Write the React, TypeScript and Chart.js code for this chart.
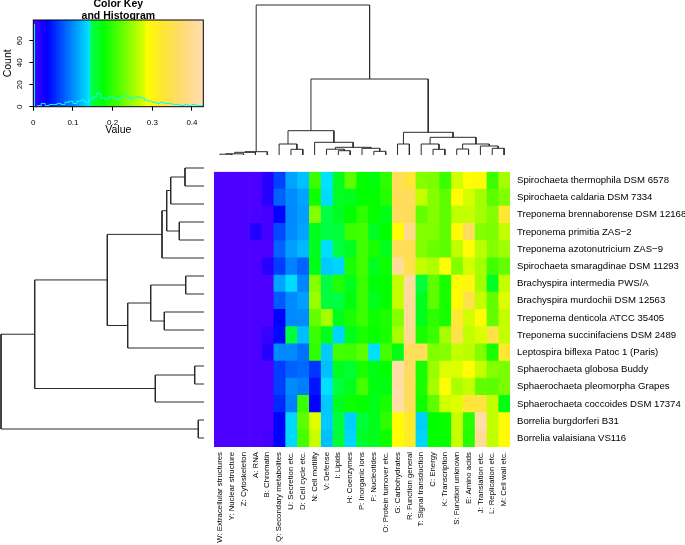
import React, { useEffect, useRef } from 'react';
import { Chart, registerables } from 'chart.js';
Chart.register(...registerables);

// ---------------- data ----------------
const VMAX = 0.4286;

const colLabels = [
  'W: Extracellular structures', 'Y: Nuclear structure', 'Z: Cytoskeleton', 'A: RNA', 'B: Chromatin',
  'Q: Secondary metabolites', 'U: Secretion etc.', 'D: Cell cycle etc.', 'N: Cell motility', 'V: Defense',
  'I: Lipids', 'H: Coenzymes', 'P: Inorganic ions', 'F: Nucleotides', 'O: Protein turnover etc.',
  'G: Carbohydrates', 'R: Function general', 'T: Signal transduction', 'C: Energy', 'K: Transcription',
  'S: Function unknown', 'E: Amino acids', 'J: Translation etc.', 'L: Replication etc.', 'M: Cell wall etc.',
];

const rowLabels = [
  'Spirochaeta thermophila DSM 6578', 'Spirochaeta caldaria DSM 7334', 'Treponema brennaborense DSM 12168',
  'Treponema primitia ZAS\u22122', 'Treponema azotonutricium ZAS\u22129', 'Spirochaeta smaragdinae DSM 11293',
  'Brachyspira intermedia PWS/A', 'Brachyspira murdochii DSM 12563', 'Treponema denticola ATCC 35405',
  'Treponema succinifaciens DSM 2489', 'Leptospira biflexa Patoc 1 (Paris)', 'Sphaerochaeta globosa Buddy',
  'Sphaerochaeta pleomorpha Grapes', 'Sphaerochaeta coccoides DSM 17374', 'Borrelia burgdorferi B31',
  'Borrelia valaisiana VS116',
];

const rowThermophila = [0, 0, 0, 0, 0.017, 0.066, 0.111, 0.126, 0.205, 0.141, 0.165, 0.222, 0.18, 0.172, 0.2, 0.358, 0.33, 0.24, 0.236, 0.205, 0.275, 0.29, 0.292, 0.205, 0.255];
const rowCaldaria = [0, 0, 0, 0, 0.017, 0.081, 0.1, 0.112, 0.185, 0.138, 0.162, 0.165, 0.178, 0.18, 0.195, 0.355, 0.36, 0.27, 0.24, 0.222, 0.29, 0.278, 0.255, 0.222, 0.238];
const rowBrennaborense = [0, 0, 0, 0, 0.003, 0.036, 0.1, 0.11, 0.24, 0.146, 0.163, 0.18, 0.2, 0.182, 0.168, 0.36, 0.355, 0.225, 0.24, 0.222, 0.268, 0.27, 0.255, 0.24, 0.325];
const rowPrimitia = [0, 0, 0, 0.02, 0.003, 0.07, 0.1, 0.112, 0.165, 0.147, 0.15, 0.205, 0.21, 0.163, 0.178, 0.29, 0.395, 0.24, 0.238, 0.222, 0.29, 0.36, 0.24, 0.236, 0.27];
const rowAzotonutricium = [0, 0, 0, 0, 0, 0.082, 0.11, 0.122, 0.165, 0.14, 0.148, 0.163, 0.208, 0.19, 0.165, 0.358, 0.355, 0.238, 0.228, 0.222, 0.268, 0.288, 0.265, 0.24, 0.253];
const rowSmaragdinae = [0, 0, 0, 0, 0.017, 0.064, 0.096, 0.082, 0.168, 0.13, 0.135, 0.192, 0.208, 0.165, 0.185, 0.41, 0.35, 0.27, 0.26, 0.29, 0.24, 0.275, 0.255, 0.208, 0.225];
const rowIntermedia = [0, 0, 0, 0, 0, 0.112, 0.138, 0.098, 0.24, 0.148, 0.195, 0.165, 0.205, 0.175, 0.18, 0.27, 0.41, 0.15, 0.222, 0.19, 0.29, 0.3, 0.255, 0.162, 0.27];
const rowMurdochii = [0, 0, 0, 0, 0, 0.078, 0.1, 0.11, 0.25, 0.15, 0.148, 0.172, 0.205, 0.165, 0.18, 0.27, 0.41, 0.165, 0.222, 0.19, 0.29, 0.345, 0.27, 0.225, 0.28];
const rowDenticola = [0, 0, 0, 0, 0, 0.036, 0.1, 0.102, 0.225, 0.255, 0.165, 0.19, 0.205, 0.185, 0.192, 0.24, 0.405, 0.165, 0.2, 0.19, 0.325, 0.275, 0.29, 0.225, 0.27];
const rowSuccinifaciens = [0, 0, 0, 0, 0.01, 0.04, 0.15, 0.125, 0.205, 0.165, 0.135, 0.165, 0.19, 0.183, 0.19, 0.255, 0.4, 0.19, 0.205, 0.255, 0.345, 0.27, 0.28, 0.34, 0.27];
const rowLeptospira = [0, 0, 0, 0, 0.017, 0.1, 0.1, 0.088, 0.2, 0.13, 0.21, 0.208, 0.22, 0.14, 0.21, 0.168, 0.36, 0.358, 0.238, 0.24, 0.27, 0.265, 0.24, 0.19, 0.325];
const rowGlobosa = [0, 0, 0, 0, 0, 0.064, 0.08, 0.085, 0.06, 0.126, 0.165, 0.155, 0.19, 0.17, 0.18, 0.42, 0.365, 0.19, 0.25, 0.28, 0.282, 0.29, 0.27, 0.24, 0.235];
const rowPleomorpha = [0, 0, 0, 0, 0, 0.064, 0.1, 0.095, 0.045, 0.14, 0.15, 0.165, 0.21, 0.172, 0.17, 0.42, 0.36, 0.19, 0.255, 0.29, 0.258, 0.27, 0.225, 0.222, 0.235];
const rowCoccoides = [0, 0, 0, 0, 0, 0.055, 0.095, 0.205, 0.036, 0.13, 0.165, 0.185, 0.18, 0.168, 0.19, 0.42, 0.36, 0.185, 0.222, 0.275, 0.282, 0.33, 0.335, 0.27, 0.17];
const rowBurgdorferi = [0, 0, 0, 0, 0, 0.036, 0.137, 0.222, 0.282, 0.13, 0.15, 0.132, 0.152, 0.165, 0.2, 0.29, 0.32, 0.132, 0.178, 0.182, 0.272, 0.198, 0.42, 0.27, 0.292];
const rowValaisiana = [0, 0, 0, 0, 0.003, 0.036, 0.137, 0.21, 0.272, 0.126, 0.152, 0.135, 0.16, 0.165, 0.185, 0.29, 0.318, 0.135, 0.18, 0.182, 0.272, 0.195, 0.405, 0.268, 0.29];

const heatValues = [
  rowThermophila, rowCaldaria, rowBrennaborense, rowPrimitia, rowAzotonutricium, rowSmaragdinae,
  rowIntermedia, rowMurdochii, rowDenticola, rowSuccinifaciens, rowLeptospira, rowGlobosa,
  rowPleomorpha, rowCoccoides, rowBurgdorferi, rowValaisiana,
];

// hclust-style merges: negative = leaf (display position, 1-based), positive = earlier merge; third = height
const colMerges: number[][] = [
  [-1, -2, 0.8], [1, -3, 1.2], [2, -4, 2.7], [3, -5, 3.3],
  [-7, -8, 5.7], [-6, 5, 11],
  [-11, -12, 4.3], [-10, 7, 5.8], [-14, -15, 3.7], [-13, 9, 6.7], [8, 10, 7.7], [-9, 11, 12.7],
  [6, 12, 24.3],
  [-16, -17, 11], [-19, -20, 5.7], [-18, 15, 11], [-21, -22, 6], [-24, -25, 6.7], [-23, 18, 9],
  [17, 19, 11], [16, 20, 17.7], [14, 21, 22.7],
  [13, 22, 76], [4, 23, 150],
];
const colTreeMax = 150;

const rowMerges: number[][] = [
  [-1, -2, 19], [1, -3, 33.3], [-4, -5, 24.7], [2, 3, 37.3], [4, -6, 42],
  [-7, -8, 18.3], [-9, -10, 39.7], [6, 7, 53.3], [8, -11, 76.3], [5, 9, 96.7],
  [-12, -13, 9.3], [11, -14, 48.7], [10, 12, 169.3], [-15, -16, 5.7], [13, 14, 203],
];
const rowTreeMax = 203;

// Colour key histogram
const histBreaks = [0, 0.003, 0.01, 0.02, 0.03, 0.04, 0.05, 0.06, 0.07, 0.08, 0.09, 0.1, 0.11, 0.12, 0.13, 0.14,
  0.15, 0.16, 0.17, 0.18, 0.19, 0.2, 0.21, 0.22, 0.23, 0.24, 0.25, 0.26, 0.27, 0.28, 0.29, 0.3, 0.31, 0.32,
  0.33, 0.34, 0.35, 0.36, 0.37, 0.38, 0.39, 0.4, 0.41, 0.42, 0.4286];
const histCounts = [75, 0, 1, 3, 1, 2, 2, 3, 2, 4, 5, 3, 5, 6, 4, 7, 9, 12, 8, 7, 9, 8, 7, 9, 10, 7, 8, 9, 8, 6,
  5, 4, 3, 4, 3, 3, 2, 2, 1, 2, 1, 2, 1, 1];
const keyTicksX = [0, 0.1, 0.2, 0.3, 0.4];
const keyCountMax = 75 / 0.95;

// ---------------- helpers ----------------
function hsv(h: number, s: number, v: number) {
  const c = v * s;
  const hp = (h % 360) / 60;
  const x = c * (1 - Math.abs((hp % 2) - 1));
  let r = 0, g = 0, b = 0;
  if (hp < 1) { r = c; g = x; } else if (hp < 2) { r = x; g = c; } else if (hp < 3) { g = c; b = x; }
  else if (hp < 4) { g = x; b = c; } else if (hp < 5) { r = x; b = c; } else { r = c; b = x; }
  const m = v - c;
  return `rgb(${Math.round((r + m) * 255)},${Math.round((g + m) * 255)},${Math.round((b + m) * 255)})`;
}
function topo(val: number) {
  const t = Math.min(1, Math.max(0, val / VMAX));
  if (t < 1 / 3) return hsv(258 - 72 * (t * 3), 1, 1);
  if (t < 2 / 3) return hsv(138 - 72 * ((t - 1 / 3) * 3), 1, 1);
  const f = (t - 2 / 3) * 3;
  return hsv(60 - 24 * f, 1 - 0.7 * f, 1);
}

function dendroPoints(merges: number[][], horizontal: boolean) {
  const pos: number[] = []; const hgt: number[] = [];
  const pts: any[] = [];
  const get = (k: number) => (k < 0 ? [-k - 0.5, 0] : [pos[k - 1], hgt[k - 1]]);
  merges.forEach(([a, b, h]) => {
    const [pa, ha] = get(a); const [pb, hb] = get(b);
    pos.push((pa + pb) / 2); hgt.push(h);
    const seg = [[pa, ha], [pa, h], [pb, h], [pb, hb]];
    seg.forEach(([p, q]) => pts.push(horizontal ? { x: p, y: q } : { x: q, y: p }));
    pts.push({ x: null, y: null });
  });
  return pts;
}

const FONT = 'Liberation Sans, Arial, Helvetica, sans-serif';

function ChartBox({ make, left, top, width, height }: any) {
  const ref = useRef<HTMLCanvasElement>(null);
  useEffect(() => {
    const chart = new Chart(ref.current as HTMLCanvasElement, make());
    return () => chart.destroy();
  }, []);
  return (
    <canvas ref={ref} width={width} height={height}
      style={{ position: 'absolute', left, top, width, height, display: 'block' }} />
  );
}

const base = { responsive: false, animation: false as const, devicePixelRatio: 1 };
const noPlugins = { legend: { display: false }, tooltip: { enabled: false } };

// ---------------- charts ----------------
const HM_W = 296, HM_H = 288;

function heatmapConfig(): any {
  return {
    type: 'bar',
    data: {
      labels: rowLabels,
      datasets: colLabels.map((c, j) => ({
        label: c,
        data: rowLabels.map(() => [j, j + 1]),
        backgroundColor: heatValues.map((r) => topo(r[j])),
        borderWidth: 0,
        barPercentage: 1,
        categoryPercentage: 1,
        grouped: false,
        xAxisID: 'x',
        yAxisID: 'y',
      })),
    },
    options: {
      ...base,
      indexAxis: 'y',
      layout: { padding: 0 },
      plugins: noPlugins,
      scales: {
        x: { type: 'linear', min: 0, max: 25, display: false },
        cx: {
          type: 'category', labels: colLabels, position: 'bottom', offset: true,
          grid: { display: false, drawTicks: false }, border: { display: false },
          ticks: { autoSkip: false, minRotation: 90, maxRotation: 90, padding: 5, color: '#000', font: { family: FONT, size: 7.8 } },
          afterFit: (s: any) => { s.height = 386 - HM_H; },
        },
        y: {
          type: 'category', position: 'right', offset: true,
          grid: { display: false, drawTicks: false }, border: { display: false },
          ticks: { autoSkip: false, padding: 7, color: '#000', font: { family: FONT, size: 9.6 } },
          afterFit: (s: any) => { s.width = 471 - HM_W; },
        },
      },
    },
  };
}

function colDendroConfig(): any {
  return {
    type: 'scatter',
    data: { datasets: [{ data: dendroPoints(colMerges, true), showLine: true, borderColor: '#2a2a2a', borderWidth: 1, pointRadius: 0, spanGaps: false, clip: false }] },
    options: {
      ...base,
      layout: { padding: { top: 5, bottom: 4, left: 0, right: 0 } },
      plugins: noPlugins,
      scales: {
        x: { type: 'linear', min: 0, max: 25, display: false },
        y: { type: 'linear', min: 0, max: colTreeMax, display: false },
      },
    },
  };
}

function rowDendroConfig(): any {
  return {
    type: 'scatter',
    data: { datasets: [{ data: dendroPoints(rowMerges, false), showLine: true, borderColor: '#2a2a2a', borderWidth: 1, pointRadius: 0, spanGaps: false, clip: false }] },
    options: {
      ...base,
      layout: { padding: { top: 0, bottom: 0, left: 1, right: 10 } },
      plugins: noPlugins,
      scales: {
        x: { type: 'linear', min: 0, max: rowTreeMax, reverse: true, display: false },
        y: { type: 'linear', min: 0, max: 16, reverse: true, display: false },
      },
    },
  };
}

const frame = {
  id: 'frame',
  afterDatasetsDraw(chart: any) {
    const { ctx, chartArea: a } = chart;
    ctx.save();
    ctx.strokeStyle = '#000'; ctx.lineWidth = 1;
    ctx.strokeRect(a.left, a.top, a.right - a.left, a.bottom - a.top);
    ctx.restore();
  },
};

function keyConfig(): any {
  const N = 86;
  const step = VMAX / N;
  const stripes = Array.from({ length: N }, (_, k) => (k + 0.5) * step);
  const histPts = histBreaks.map((b, k) => ({ x: b, y: histCounts[Math.min(k, histCounts.length - 1)] }));
  return {
    type: 'bar',
    data: {
      datasets: [
        { type: 'line', data: histPts, borderColor: 'rgb(0,255,255)', borderWidth: 1, pointRadius: 0, stepped: 'before', xAxisID: 'x', yAxisID: 'y', clip: false },
        { type: 'bar', data: stripes.map((m) => ({ x: m, y: keyCountMax })), backgroundColor: stripes.map((m) => topo(m)), borderWidth: 0, barPercentage: 1, categoryPercentage: 1, xAxisID: 'x', yAxisID: 'y' },
      ],
    },
    options: {
      ...base,
      layout: { padding: { top: 2, left: 0, right: 11.7, bottom: 0 } },
      plugins: {
        ...noPlugins,
        title: {
          display: true, text: ['Color Key', 'and Histogram'], fullSize: false, color: '#000',
          font: { family: FONT, size: 10.5, weight: 'bold', lineHeight: '12px' },
          padding: { top: -4, bottom: -2 },
        },
      },
      scales: {
        x: {
          type: 'linear', min: 0, max: VMAX, offset: false, position: 'bottom',
          afterBuildTicks: (s: any) => { s.ticks = keyTicksX.map((v) => ({ value: v })); },
          grid: { drawOnChartArea: false, drawTicks: true, tickLength: 4, color: '#000', offset: false },
          border: { display: false },
          ticks: { padding: 7, color: '#000', font: { family: FONT, size: 8 }, maxRotation: 0 },
          title: { display: true, text: 'Value', color: '#000', font: { family: FONT, size: 10.5 }, padding: { top: 0, bottom: 3.7 } },
          afterFit: (s: any) => { s.height = 33.3; },
        },
        y: {
          type: 'linear', min: 0, max: keyCountMax, position: 'left',
          grid: { drawOnChartArea: false, drawTicks: true, tickLength: 4, color: '#000' },
          border: { display: false },
          ticks: { stepSize: 20, includeBounds: false, minRotation: 90, maxRotation: 90, crossAlign: 'center', padding: 4.8, color: '#000', font: { family: FONT, size: 8 } },
          title: { display: true, text: 'Count', color: '#000', font: { family: FONT, size: 10.5 }, padding: { top: 1.7, bottom: 0 } },
          afterFit: (s: any) => { s.width = 33.3; },
        },
      },
    },
    plugins: [frame],
  };
}

export default function App() {
  return (
    <div style={{ position: 'absolute', left: 0, top: 0, width: 685, height: 545, background: '#fff', overflow: 'hidden' }}>
      <ChartBox make={keyConfig} left={0} top={0} width={215} height={140} />
      <ChartBox make={colDendroConfig} left={214} top={0} width={HM_W} height={159} />
      <ChartBox make={rowDendroConfig} left={0} top={159} width={214} height={HM_H} />
      <ChartBox make={heatmapConfig} left={214} top={159} width={471} height={386} />
    </div>
  );
}
